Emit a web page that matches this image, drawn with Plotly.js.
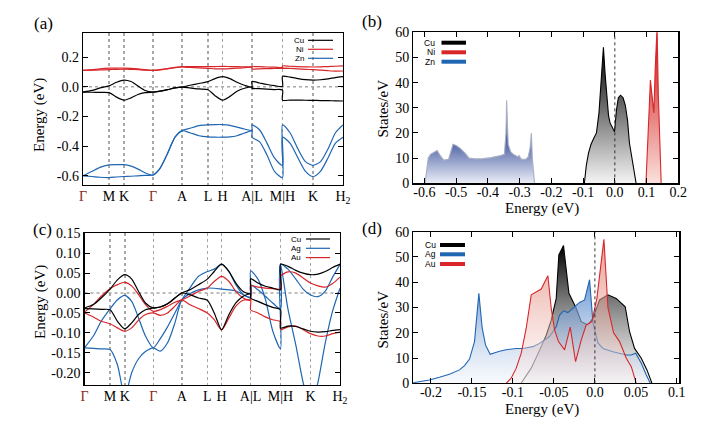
<!DOCTYPE html>
<html><head><meta charset="utf-8">
<script src="https://cdn.plot.ly/plotly-3.0.1.min.js"></script>
<style>html,body{margin:0;padding:0;background:#fff}</style>
</head><body><div id="chart" style="width:706px;height:431px"></div>
<script>
// ---------- band-structure path ----------
const kTicks = [0, 26, 41, 70, 99, 125, 139.5, 169, 199.5, 230, 260];
const kLabels = ['<span style="color:#8a2a18">Γ</span>', 'M', 'K', '<span style="color:#8a2a18">Γ</span>', 'A', 'L', 'H', 'A|L', 'M|H', 'K', 'H<sub>2</sub>'];
const kGrid = [0, 9, 17, 26, 33.5, 41, 48, 55, 62, 70, 77, 84.5, 92, 99, 107, 116, 125, 132, 139.5, 147, 154, 161.5, 169, 169, 176.5, 184, 191.5, 199.5, 199.5, 207, 215, 222.5, 230, 237.5, 245, 252.5, 260];

// panel (a): Cu / Ni / Zn bands (eV)
const cuA1 = [-0.036,-0.025,-0.008,0.006,0.03,0.045,0.035,0.005,-0.025,-0.036,-0.03,-0.02,-0.008,-0.002,0.01,0.022,0.034,0.055,0.068,0.055,0.03,0.01,-0.002,0.035,0.025,0.015,0.007,0.003,0.07,0.065,0.055,0.048,0.045,0.047,0.053,0.062,0.068];
const cuA2 = [-0.036,-0.037,-0.038,-0.04,-0.07,-0.09,-0.075,-0.052,-0.04,-0.036,-0.03,-0.02,-0.008,-0.002,-0.008,-0.015,-0.02,-0.06,-0.09,-0.065,-0.03,-0.01,-0.003,-0.01,-0.013,-0.016,-0.019,-0.022,-0.09,-0.09,-0.09,-0.091,-0.092,-0.093,-0.094,-0.095,-0.096];
const niA1 = [0.11,0.115,0.121,0.125,0.126,0.126,0.124,0.12,0.115,0.11,0.115,0.122,0.13,0.135,0.135,0.135,0.135,0.136,0.137,0.136,0.135,0.134,0.133,0.135,0.135,0.133,0.132,0.13,0.14,0.138,0.135,0.134,0.133,0.134,0.136,0.138,0.14];
const niA2 = [0.11,0.111,0.113,0.115,0.117,0.118,0.117,0.115,0.112,0.11,0.113,0.12,0.128,0.133,0.13,0.127,0.124,0.121,0.12,0.122,0.125,0.128,0.133,0.12,0.121,0.122,0.123,0.125,0.125,0.124,0.12,0.117,0.115,0.112,0.108,0.105,0.106];
const znA1 = [-0.6,-0.57,-0.543,-0.527,-0.525,-0.525,-0.535,-0.555,-0.58,-0.595,-0.55,-0.45,-0.34,-0.296,-0.28,-0.262,-0.257,-0.255,-0.255,-0.26,-0.272,-0.285,-0.295,-0.257,-0.29,-0.38,-0.48,-0.53,-0.257,-0.31,-0.42,-0.505,-0.53,-0.505,-0.42,-0.31,-0.257];
const znA2 = [-0.6,-0.605,-0.61,-0.612,-0.608,-0.605,-0.603,-0.6,-0.597,-0.595,-0.55,-0.45,-0.34,-0.296,-0.31,-0.33,-0.338,-0.34,-0.34,-0.338,-0.33,-0.312,-0.297,-0.34,-0.37,-0.46,-0.57,-0.612,-0.34,-0.38,-0.48,-0.57,-0.605,-0.57,-0.48,-0.38,-0.34];

// panel (c): Cu / Ag / Au bands (eV)
const cuC1 = [-0.0375,-0.029,-0.0125,0.01,0.033,0.046,0.035,0.004,-0.025,-0.0375,-0.035,-0.027,-0.0125,0.0,0.008,0.021,0.035,0.054,0.0725,0.054,0.025,0.004,-0.002,0.036,0.025,0.017,0.0125,0.008,0.0725,0.067,0.057,0.05,0.046,0.0475,0.054,0.064,0.0725];
const cuC2 = [-0.039,-0.04,-0.041,-0.042,-0.071,-0.09,-0.075,-0.054,-0.042,-0.0375,-0.035,-0.027,-0.0125,0.0,-0.004,-0.0125,-0.018,-0.05,-0.092,-0.054,-0.025,-0.008,-0.002,-0.0125,-0.021,-0.029,-0.036,-0.042,-0.088,-0.083,-0.084,-0.09,-0.096,-0.098,-0.097,-0.094,-0.092];
const agC1 = [-0.1375,-0.108,-0.071,-0.04,-0.017,-0.006,-0.021,-0.0625,-0.108,-0.1375,-0.115,-0.085,-0.05,-0.017,0.012,0.042,0.054,0.06,0.0725,0.054,0.021,-0.004,-0.01,0.056,0.035,-0.015,-0.095,-0.14,0.0725,0.06,0.035,0.01,-0.005,-0.009,0.005,0.04,0.072];
const agC2 = [-0.1375,-0.139,-0.14,-0.142,-0.18,-0.26,-0.2,-0.165,-0.147,-0.1375,-0.146,-0.125,-0.075,-0.017,-0.002,0.008,0.0125,0.012,0.01,0.008,0.005,-0.004,-0.012,0.02,0.008,-0.008,-0.025,-0.04,0.0725,-0.04,-0.13,-0.225,-0.29,-0.225,-0.125,-0.045,0.012];
const auC1 = [-0.048,-0.029,-0.008,0.011,0.021,0.027,0.018,-0.004,-0.029,-0.046,-0.042,-0.033,-0.023,-0.017,-0.008,0.004,0.0125,0.029,0.042,0.029,0.004,-0.0125,-0.018,0.018,0.015,0.0125,0.011,0.01,0.042,0.053,0.05,0.038,0.025,0.018,0.015,0.024,0.04];
const auC2 = [-0.05,-0.06,-0.071,-0.077,-0.0875,-0.096,-0.0875,-0.068,-0.054,-0.05,-0.056,-0.05,-0.033,-0.017,-0.029,-0.039,-0.05,-0.067,-0.093,-0.0625,-0.033,-0.018,-0.018,-0.042,-0.05,-0.06,-0.067,-0.072,-0.092,-0.085,-0.083,-0.092,-0.102,-0.108,-0.108,-0.102,-0.098];

// panel (b): DOS Cu / Ni / Zn
const eZnB = [-0.598,-0.588,-0.581,-0.575,-0.568,-0.56,-0.55,-0.539,-0.524,-0.515,-0.51,-0.5,-0.488,-0.472,-0.459,-0.44,-0.415,-0.39,-0.374,-0.36,-0.348,-0.343,-0.341,-0.338,-0.336,-0.328,-0.32,-0.312,-0.306,-0.302,-0.298,-0.294,-0.281,-0.273,-0.267,-0.263,-0.26,-0.256,-0.253];
const dZnB = [0,10,11.5,12,12.5,13,11,9.2,9.5,13,15.5,15,14,12,10,9.7,9.8,10.2,10.5,11,11.5,20,33,18,15.5,12.5,11.5,11,10.5,11,10,9.5,9.5,10.5,14,20,10,3,0];
const eCuB = [-0.096,-0.09,-0.083,-0.075,-0.066,-0.058,-0.05,-0.042,-0.036,-0.031,-0.026,-0.02,-0.015,-0.008,-0.001,0.005,0.011,0.018,0.026,0.033,0.04,0.046,0.052,0.059,0.067];
const dCuB = [0,7,12,15.5,18,20,28,45,54,44,35,27,24,22.5,20.5,29,34,35,34,31,25,16,11,6,0];
const eNiB = [0.098,0.104,0.109,0.112,0.116,0.12,0.123,0.127,0.13,0.133,0.137,0.141,0.146];
const dNiB = [0,15,32,41,36,30,28,45,62,62,35,15,0];

// panel (d): DOS Cu / Ag / Au
const eCuD = [-0.09,-0.0777,-0.0676,-0.0594,-0.0533,-0.0472,-0.044,-0.0383,-0.0317,-0.0228,-0.0167,-0.0085,-0.0024,0.0057,0.0159,0.026,0.037,0.0423,0.0484,0.0566,0.0635,0.0696];
const dCuD = [0,6,13,19,25,33.6,50.8,54.5,35.6,29.7,24.4,23.1,25.7,33,35,33.6,30.3,20.4,13.8,9.9,5.3,0];
const eAgD = [-0.2222,-0.2019,-0.1897,-0.1775,-0.1652,-0.1591,-0.153,-0.1469,-0.1416,-0.1376,-0.1335,-0.1278,-0.1164,-0.1083,-0.0961,-0.0879,-0.0757,-0.0676,-0.0554,-0.0472,-0.0431,-0.0383,-0.033,-0.0269,-0.0187,-0.0126,-0.0065,-0.0024,0.0037,0.0098,0.022,0.0383,0.0444,0.0497,0.0566,0.0627,0.0676];
const dAgD = [0.2,1.3,2.4,3.6,5.3,7,9.6,16.5,35.6,22,15.2,11.5,12.7,13.3,13.8,13.8,14.5,15.8,18.5,22.4,27,28.7,28,29.7,32,33,41,24,16,13.8,12.5,11.2,11.2,11.9,7.9,3.3,0];
const eAuD = [-0.1083,-0.1022,-0.0961,-0.0899,-0.0838,-0.0777,-0.0655,-0.0574,-0.0533,-0.0492,-0.0444,-0.037,-0.0301,-0.0236,-0.0167,-0.0106,-0.0037,0.0024,0.011,0.0159,0.0228,0.0301,0.0383,0.0444,0.0505];
const dAuD = [0,2,5.9,11.9,21.8,35,37.3,42.6,29.7,21.1,16.5,13.2,22.2,8.6,17.1,23.1,24.4,33.6,57,30,20,16.5,9.9,6.6,0];

// tick labels
const yTickA = [-0.6, -0.4, -0.2, 0, 0.2];
const yTextA = ['-0.6', '-0.4', '-0.2', '0.0', '0.2'];
const yTickC = [-0.2, -0.15, -0.1, -0.05, 0, 0.05, 0.1, 0.15];
const yTextC = ['-0.20', '-0.15', '-0.10', '-0.05', '0.00', '0.05', '0.10', '0.15'];
const xTickB = [-0.6, -0.5, -0.4, -0.3, -0.2, -0.1, 0, 0.1, 0.2];
const xTextB = ['-0.6', '-0.5', '-0.4', '-0.3', '-0.2', '-0.1', '0.0', '0.1', '0.2'];
const xTickD = [-0.2, -0.15, -0.1, -0.05, 0, 0.05, 0.1];
const xTextD = ['-0.2', '-0.15', '-0.1', '-0.05', '0.0', '0.05', '0.1'];
const dosTicks = [0, 10, 20, 30, 40, 50, 60];

// legend names
const legA = ['Cu', 'Ni', 'Zn'];
const legC = ['Cu', 'Ag', 'Au'];

// ---------- styling ----------
const BLACK = '#000000', RED = '#d8262a', BLUE = '#1f66b3';
const SERIF = 'Liberation Serif';
const SANS = 'Liberation Sans';

function band(y, color, xa, ya) {
  return {x: kGrid, y: y, xaxis: xa, yaxis: ya, mode: 'lines', hoverinfo: 'skip', showlegend: false,
          line: {color: color, width: 1.2, shape: 'spline', smoothing: 0.7}};
}
function dos(x, y, line, c0, c1, stop, xa, ya) {
  return {x: x, y: y, xaxis: xa, yaxis: ya, mode: 'lines', fill: 'tozeroy', hoverinfo: 'skip', showlegend: false,
          line: {color: line, width: 1.1},
          fillgradient: {type: 'vertical', start: 0, stop: stop, colorscale: [[0, c0], [1, c1]]}};
}

const traces = [
  band(niA1, RED, 'x', 'y'), band(niA2, RED, 'x', 'y'),
  band(znA1, BLUE, 'x', 'y'), band(znA2, BLUE, 'x', 'y'),
  band(cuA1, BLACK, 'x', 'y'), band(cuA2, BLACK, 'x', 'y'),
  band(agC1, BLUE, 'x3', 'y3'), band(agC2, BLUE, 'x3', 'y3'),
  band(auC1, RED, 'x3', 'y3'), band(auC2, RED, 'x3', 'y3'),
  band(cuC1, BLACK, 'x3', 'y3'), band(cuC2, BLACK, 'x3', 'y3'),
  dos(eZnB, dZnB, '#a9afc4', 'rgba(235,238,248,1)', 'rgba(80,100,165,1)', 16, 'x2', 'y2'),
  dos(eCuB, dCuB, BLACK, 'rgba(245,245,245,1)', 'rgba(0,0,0,1)', 54, 'x2', 'y2'),
  dos(eNiB, dNiB, RED, 'rgba(250,225,220,1)', 'rgba(210,30,30,1)', 55, 'x2', 'y2'),
  dos(eCuD, dCuD, BLACK, 'rgba(245,245,245,0.6)', 'rgba(0,0,0,1)', 54, 'x4', 'y4'),
  dos(eAgD, dAgD, BLUE, 'rgba(235,240,250,0.4)', 'rgba(80,130,200,0.8)', 40, 'x4', 'y4'),
  dos(eAuD, dAuD, RED, 'rgba(250,238,234,0.35)', 'rgba(222,118,105,0.7)', 55, 'x4', 'y4')
];

function bandX(domain, anchor) {
  return {domain: domain, anchor: anchor, range: [0, 260], tickmode: 'array', tickvals: kTicks, ticktext: kLabels,
          ticks: '', showgrid: true, gridcolor: '#a8a8a8', griddash: 'dot', gridwidth: 1.5, ticklabelstandoff: -2,
          showline: true, mirror: true, linecolor: '#000', linewidth: 1.2, zeroline: false,
          tickfont: {family: SERIF, size: 14, color: '#000'}, fixedrange: true};
}
function valAxis(domain, anchor, range, tv, tt, standoff) {
  return {domain: domain, anchor: anchor, range: range, tickmode: 'array', tickvals: tv, ticktext: tt,
          ticks: 'inside', ticklen: 5, tickcolor: '#000', tickwidth: 1, showgrid: false, showline: true, mirror: 'ticks',
          ticklabelstandoff: standoff || 0,
          linecolor: '#000', linewidth: 1.2, zeroline: false, tickfont: {family: SERIF, size: 14, color: '#000'}, fixedrange: true};
}

const layout = {
  width: 706, height: 431, margin: {l: 0, r: 0, t: 0, b: 0}, paper_bgcolor: '#fff', plot_bgcolor: '#fff', showlegend: false,
  font: {family: SERIF, color: '#000'},
  xaxis: bandX([0.1176, 0.4858], 'y'),
  yaxis: valAxis([0.5708, 0.9234], 'x', [-0.662, 0.362], yTickA, yTextA),
  xaxis2: valAxis([0.5854, 0.9608], 'y2', [-0.635, 0.2], xTickB, xTextB, -4),
  yaxis2: valAxis([0.5747, 0.9251], 'x2', [0, 60], dosTicks, dosTicks.map(String)),
  xaxis3: bandX([0.1197, 0.4816], 'y3'),
  yaxis3: valAxis([0.1067, 0.4587], 'x3', [-0.231, 0.15], yTickC, yTextC),
  xaxis4: valAxis([0.5854, 0.9622], 'y4', [-0.2216, 0.103], xTickD, xTextD, -4),
  yaxis4: valAxis([0.1107, 0.4624], 'x4', [0, 60], dosTicks, dosTicks.map(String)),
  shapes: [
    {type: 'line', xref: 'x domain', x0: 0, x1: 1, yref: 'y', y0: 0, y1: 0, layer: 'below', line: {color: '#a8a8a8', width: 1.5, dash: 'dot'}},
    {type: 'line', xref: 'x3 domain', x0: 0, x1: 1, yref: 'y3', y0: 0, y1: 0, layer: 'below', line: {color: '#a8a8a8', width: 1.5, dash: 'dot'}},
    {type: 'line', xref: 'x2', x0: 0, x1: 0, yref: 'y2 domain', y0: 0, y1: 1, line: {color: '#333', width: 1, dash: 'dot'}},
    {type: 'line', xref: 'x4', x0: 0, x1: 0, yref: 'y4 domain', y0: 0, y1: 1, line: {color: '#333', width: 1, dash: 'dot'}}
  ],
  annotations: []
};

// panel labels and axis titles
const A = layout.annotations;
function txt(t, x, y, size, angle, family) {
  A.push({text: t, xref: 'paper', yref: 'paper', x: x, y: y, xanchor: 'center', yanchor: 'middle', showarrow: false,
          textangle: angle || 0, font: {family: family || SERIF, size: size, color: '#000'}});
}
txt('(a)', 43 / 706, 1 - 23 / 431, 17);
txt('(b)', 372 / 706, 1 - 21.5 / 431, 17);
txt('(c)', 42 / 706, 1 - 229 / 431, 17);
txt('(d)', 372 / 706, 1 - 228 / 431, 17);
txt('Energy (eV)', 40 / 706, 1 - 115 / 431, 15, -90);
txt('Energy (eV)', 40 / 706, 1 - 302 / 431, 15, -90);
txt('States/eV', 382.5 / 706, 1 - 109 / 431, 15, -90);
txt('States/eV', 382.5 / 706, 1 - 320 / 431, 15, -90);
txt('Energy (eV)', 541.5 / 706, 1 - 208.5 / 431, 15, 0);
txt('Energy (eV)', 541.5 / 706, 1 - 409 / 431, 15, 0);

// manual legends (text then line sample, as in the original)
const colsA = [BLACK, RED, BLUE], colsC = [BLACK, BLUE, RED];
function legend(names, cols, textRight, x0, x1, ys, width, size) {
  names.forEach(function (n, i) {
    A.push({text: n, xref: 'paper', yref: 'paper', x: textRight / 706, y: 1 - ys[i] / 431, xanchor: 'right', yanchor: 'middle',
            showarrow: false, borderpad: 0, font: {family: SANS, size: size, color: '#000'}});
    layout.shapes.push({type: 'line', xref: 'paper', yref: 'paper', x0: x0 / 706, x1: x1 / 706,
                        y0: 1 - ys[i] / 431, y1: 1 - ys[i] / 431, line: {color: cols[i], width: width}});
  });
}
legend(legA, colsA, 305, 308, 333, [40.3, 49.3, 58.3], 1.2, 8);
legend(legA, colsA, 436, 441.5, 466, [42.7, 52.3, 61.7], 4, 8.5);
legend(legC, colsC, 302, 306, 330, [239, 248.3, 257.6], 1.2, 8);
legend(legC, colsC, 437, 440, 465, [245, 254.3, 264], 4, 8.5);

Plotly.newPlot('chart', traces, layout, {displayModeBar: false, staticPlot: true});
</script></body></html>
